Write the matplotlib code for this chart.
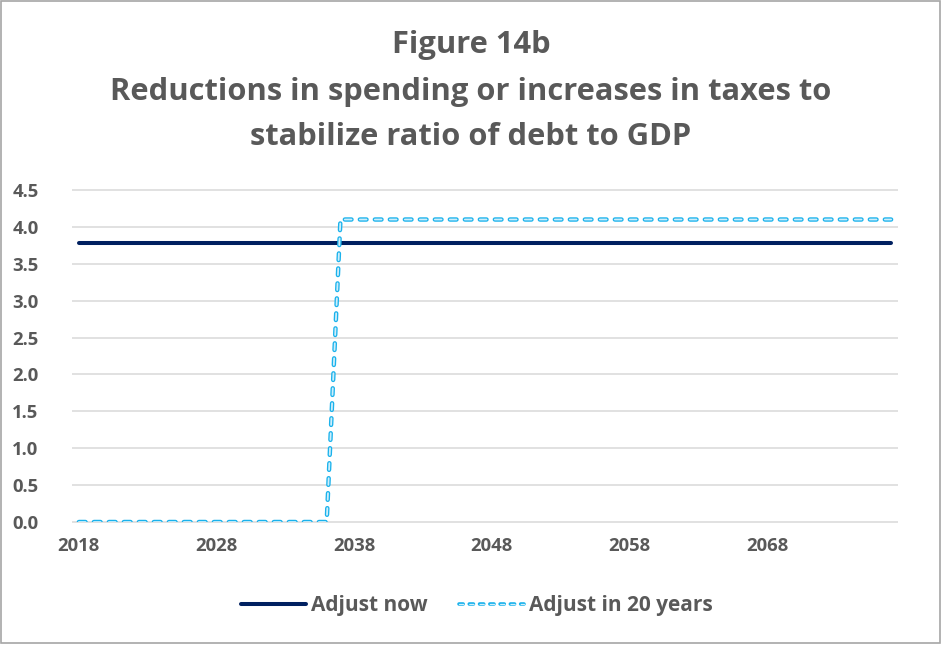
import numpy as np
import matplotlib.pyplot as plt
from matplotlib.patches import Rectangle
from matplotlib.lines import Line2D

plt.rcParams['font.family'] = ['Open Sans', 'DejaVu Sans']
plt.rcParams['lines.scale_dashes'] = False

# Datos
years = list(range(2018, 2078))
adjust_now = [3.78] * len(years)
adjust_20 = [0.0] * 19 + [4.1] * (len(years) - 19)
tick_years = [2018, 2028, 2038, 2048, 2058, 2068]
y_ticks = [0.0, 0.5, 1.0, 1.5, 2.0, 2.5, 3.0, 3.5, 4.0, 4.5]

grey_txt = '#595959'
navy = '#002060'
sky = '#1AB2EC'
sky_in = '#CDEEFB'
grid_c = '#D9D9D9'

fig = plt.figure(figsize=(9.42, 6.46), dpi=100)
ax = fig.add_axes([72/942, 1 - 522/646, 826/942, 332/646])

x = np.arange(len(years))

# líneas de cuadrícula
ax.hlines(y_ticks, -0.5, len(years) - 0.5, color=grid_c, lw=1.1, clip_on=False, zorder=0)

ax.plot(x, adjust_now, color=navy, lw=2.9, solid_capstyle='round', zorder=3)
# línea "hueca" discontinua
dash = (4.8, 6.0)
ax.plot(x, adjust_20, color=sky, lw=3.2, dashes=dash, dash_capstyle='round', zorder=4)
ax.plot(x, adjust_20, color=sky_in, lw=1.3, dashes=dash, dash_capstyle='round', zorder=5)

ax.set_xlim(-0.5, len(years) - 0.5)
ax.set_ylim(0, 4.5)
ax.set_yticks(y_ticks)
ax.set_yticklabels([f'{v:.1f}' for v in y_ticks])
ax.set_xticks([years.index(y) for y in tick_years])
ax.set_xticklabels([str(y) for y in tick_years])
ax.tick_params(length=0, labelsize=13.3, colors=grey_txt)
ax.tick_params(axis='y', pad=24)
ax.tick_params(axis='x', pad=11)
for lab in ax.get_xticklabels() + ax.get_yticklabels():
    lab.set_fontweight('bold')
for s in ax.spines.values():
    s.set_visible(False)

title_kw = dict(ha='center', va='center', fontsize=22.2, fontweight='bold', color=grey_txt)
fig.text(0.5, 1 - 45/646, 'Figure 14b', **title_kw)
fig.text(0.5, 1 - 92/646, 'Reductions in spending or increases in taxes to', **title_kw)
fig.text(0.5, 1 - 137/646, 'stabilize ratio of debt to GDP', **title_kw)

# leyenda
h1 = Line2D([], [], color=navy, lw=2.9, solid_capstyle='round')
h2a = Line2D([], [], color=sky, lw=2.6, dashes=(3.0, 4.4), dash_capstyle='round')
h2b = Line2D([], [], color=sky_in, lw=0.9, dashes=(3.0, 4.4), dash_capstyle='round')
leg = fig.legend([h1, (h2a, h2b)], ['Adjust now', 'Adjust in 20 years'], loc='center',
                 bbox_to_anchor=(477/942, 1 - 606/646), ncol=2, frameon=False,
                 handlelength=3.1, handletextpad=0.25, columnspacing=1.5,
                 prop={'size': 15, 'weight': 'bold'})
for t in leg.get_texts():
    t.set_color(grey_txt)

fig.patches.append(Rectangle((1/942, 3/646), 939/942, 642/646, transform=fig.transFigure,
                             fill=False, edgecolor='#A6A6A6', lw=1.2))

fig.savefig('out.png', dpi=100)
